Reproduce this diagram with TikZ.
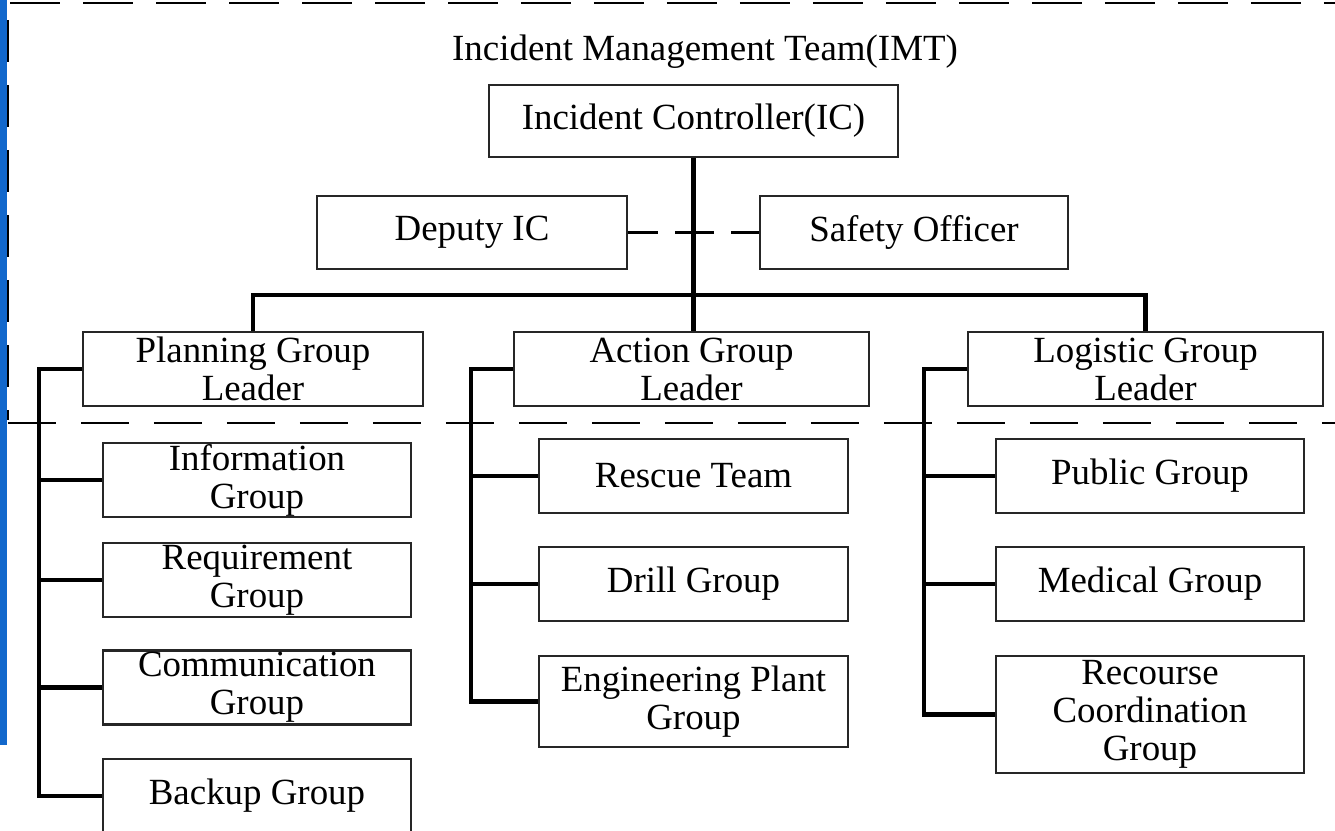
\documentclass[tikz,border=0pt]{standalone}
\usepackage{fontspec}
\setmainfont{Liberation Serif}
\definecolor{barblue}{RGB}{18,104,204}
\tikzset{
  box/.style={draw=black!85, line width=0.6pt, inner sep=0pt, align=center,
    font=\fontsize{10.5}{10.8}\selectfont},
  link/.style={line width=1.2pt},
  rule/.style={line width=0.8pt, dash pattern=on 4.8mm off 2.5mm}
}
\begin{document}
\begin{tikzpicture}
  \clip (0,0) rectangle (13.35,8.3);
  \fill[white] (0,0) rectangle (13.35,8.3);

  % page edges
  \fill[barblue] (0,8.3) rectangle (0.07,0.85);
  \draw[rule, line width=0.6pt, dash pattern=on 5mm off 2.3mm] (0.1,8.27) -- (13.35,8.27);
  \draw[rule, line width=0.5pt, dash pattern=on 4.2mm off 2.3mm] (0.08,8.1) -- (0.08,4.1);
  \draw[rule] (0.08,4.07) -- (13.35,4.07);

  \node (imt) at (7.05,7.78) {\fontsize{10.5}{10.8}\selectfont Incident Management Team(IMT)};
  \node[box, minimum width=4.09cm, minimum height=0.72cm] (ic) at (6.935,7.09) {Incident Controller(IC)};

  \node[box, minimum width=3.10cm, minimum height=0.73cm] (deputy) at (4.72,5.975) {Deputy IC};
  \node[box, minimum width=3.08cm, minimum height=0.73cm] (safety) at (9.14,5.975) {Safety Officer};

  \node[box, minimum width=3.40cm, minimum height=0.74cm] (planning) at (2.53,4.61) {Planning Group\\Leader};
  \node[box, minimum width=3.55cm, minimum height=0.74cm] (action) at (6.915,4.61) {Action Group\\Leader};
  \node[box, minimum width=3.55cm, minimum height=0.74cm] (logistic) at (11.455,4.61) {Logistic Group\\Leader};

  \node[box, minimum width=3.08cm, minimum height=0.74cm] (info) at (2.57,3.50) {Information\\Group};
  \node[box, minimum width=3.08cm, minimum height=0.74cm] (req) at (2.57,2.50) {Requirement\\Group};
  \node[box, minimum width=3.08cm, minimum height=0.74cm] (comm) at (2.57,1.425) {Communication\\Group};
  \node[box, minimum width=3.08cm, minimum height=0.74cm] (backup) at (2.57,0.34) {Backup Group};

  \node[box, minimum width=3.09cm, minimum height=0.74cm] (rescue) at (6.935,3.54) {Rescue Team};
  \node[box, minimum width=3.09cm, minimum height=0.74cm] (drill) at (6.935,2.46) {Drill Group};
  \node[box, minimum width=3.09cm, minimum height=0.91cm] (eng) at (6.935,1.285) {Engineering Plant\\Group};

  \node[box, minimum width=3.08cm, minimum height=0.74cm] (public) at (11.50,3.54) {Public Group};
  \node[box, minimum width=3.08cm, minimum height=0.74cm] (medical) at (11.50,2.46) {Medical Group};
  \node[box, minimum width=3.08cm, minimum height=1.17cm] (recourse) at (11.50,1.155) {Recourse\\Coordination\\Group};

  \coordinate (bar) at (6.935,5.35);
  \coordinate (pt) at (0.39,4.61);
  \coordinate (at) at (4.71,4.61);
  \coordinate (lt) at (9.24,4.61);

  \draw[link] (ic.south) -- (ic.south |- action.north);
  \draw[link] (planning.north) |- (bar) -| (logistic.north);
  \draw[line width=0.9pt, dash pattern=on 3mm off 1.7mm on 3.9mm off 1.7mm on 3mm off 2mm]
    (deputy.east) -- (safety.west);

  \draw[link] (planning.west) -- (pt) |- (backup.west);
  \foreach \n in {info,req,comm}
    \draw[link] (pt |- \n.west) -- (\n.west);

  \draw[link] (action.west) -- (at) |- (eng.west);
  \foreach \n in {rescue,drill}
    \draw[link] (at |- \n.west) -- (\n.west);

  \draw[link] (logistic.west) -- (lt) |- (recourse.west);
  \foreach \n in {public,medical}
    \draw[link] (lt |- \n.west) -- (\n.west);
\end{tikzpicture}
\end{document}
